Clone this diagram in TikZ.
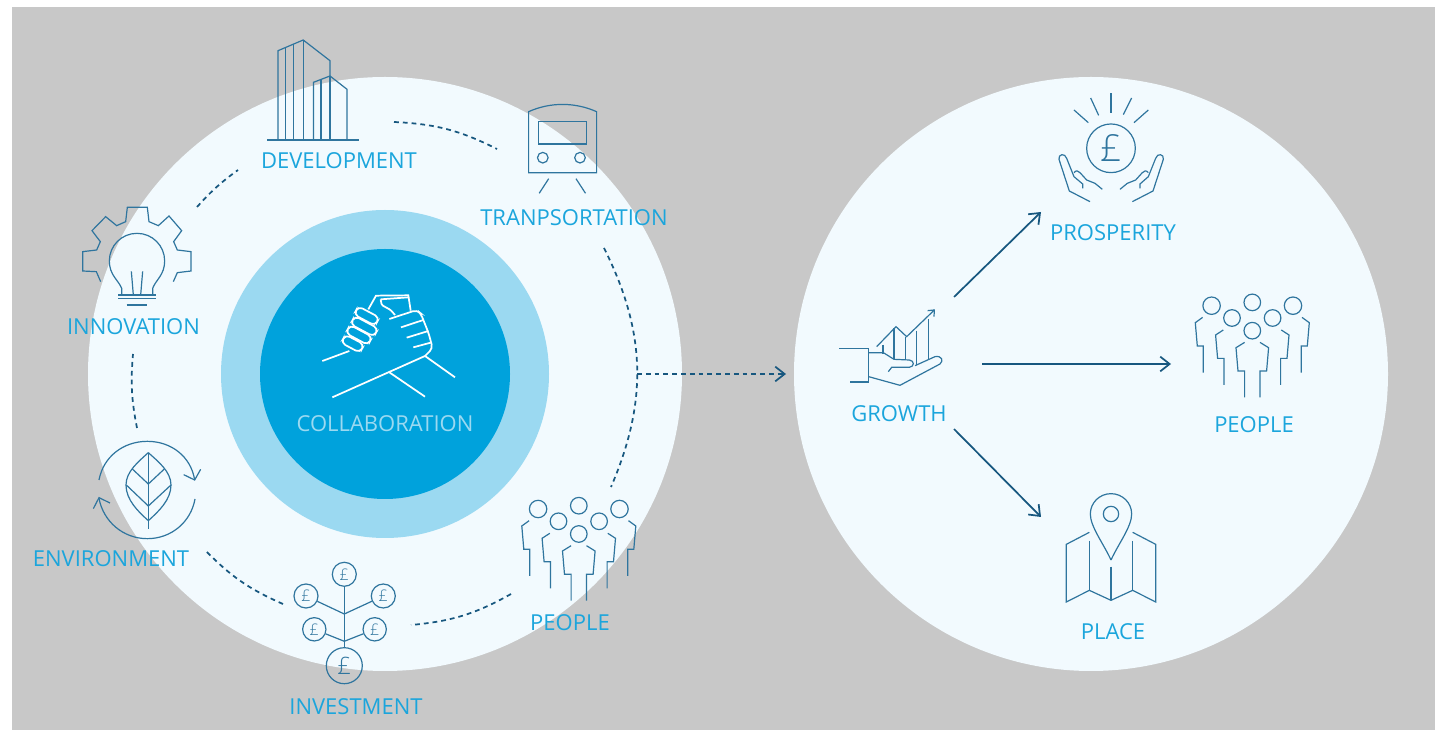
\documentclass[tikz,border=0pt]{standalone}
\usepackage{fontspec}
\setmainfont{Open Sans}
\newfontfamily\thinfont{Open Sans Light}
\usetikzlibrary{arrows.meta}
\definecolor{backgrey}{HTML}{C8C8C8}
\definecolor{paleblue}{HTML}{F2FAFE}
\definecolor{ringblue}{HTML}{9BD9F1}
\definecolor{coreblue}{HTML}{00A2DC}
\definecolor{textblue}{HTML}{1BA5DC}
\definecolor{iconblue}{HTML}{2F759E}
\definecolor{flowblue}{HTML}{17577F}
\tikzset{
  iconline/.style={draw=iconblue,line width=0.9pt},
  handline/.style={draw=white,line width=1.3pt,rounded corners=3pt},
  fingerline/.style={handline,rounded corners=3.5pt},
  caption/.style={text=textblue,font=\fontsize{16.5}{18}\selectfont,inner sep=0pt},
  coin/.style={iconline,circle,inner sep=0pt,text=iconblue},
  dashflow/.style={draw=flowblue,line width=1.3pt,dash pattern=on 3.6pt off 3pt},
  solidflow/.style={draw=flowblue,line width=1.3pt,-{Straight Barb[length=7pt,width=11pt]}},
  people/.pic={
    \draw[iconline] (-40.7,-41) circle (8.7) (-20.3,-28.7) circle (8.3) (0,-44.3) circle (8.3)
      (20.3,-28.7) circle (8.3) (40.7,-41) circle (8.7) (0,-16) circle (8.3);
    \draw[iconline] (-49.7,-29.3) -- (-57,-24) -- (-55,-0.7) -- (-49,-0.7) -- (-49,26);
    \draw[iconline] (49.7,-29.3) -- (57,-24) -- (55,-0.7) -- (49,-0.7) -- (49,26);
    \draw[iconline] (-29,-16.7) -- (-36.7,-11.7) -- (-34.7,11.7) -- (-28.3,11.7) -- (-28.3,38.3);
    \draw[iconline] (29,-16.7) -- (36.7,-11.7) -- (34.7,11.7) -- (28.3,11.7) -- (28.3,38.3);
    \draw[iconline] (-7.7,-4.3) -- (-16.3,1) -- (-14.3,24.3) -- (-7.7,24.3) -- (-7.7,50.7);
    \draw[iconline] (7.7,-4.3) -- (16.3,1) -- (14.3,24.3) -- (7.7,24.3) -- (7.7,50.7);
  }
}
\begin{document}
\begin{tikzpicture}[x=0.75pt,y=-0.75pt]
\useasboundingbox (0,0) rectangle (1440,730);
\fill[backgrey] (12,7) rectangle (1435,730);
\fill[paleblue] (385,374) circle (297);
\fill[paleblue] (1091,374) circle (297);
\fill[ringblue] (385,374) circle (164);
\fill[coreblue] (385,374) circle (125);

% handshake
\begin{scope}[shift={(300,270)},scale=1/3]
\draw[fingerline] (174.9,108.8) -- (238.3,142.6) -- (225.1,167.2) -- (161.7,133.4) -- cycle;
\draw[fingerline] (164.4,137.9) -- (234.8,175.5) -- (221.6,200.1) -- (151.2,162.5) -- cycle;
\draw[fingerline] (150.2,164.8) -- (217,200.6) -- (203.8,225.2) -- (137,189.4) -- cycle;
\draw[fingerline] (136.4,193.7) -- (192.8,223.7) -- (179.6,248.3) -- (123.2,218.3) -- cycle;
\draw[handline] (67,273) -- (148,243);
\draw[handline,rounded corners=0pt] (205,118) -- (228,77) -- (325,76) -- (332,122);
\draw[handline] (268,147) -- (350,120) -- (362,130) -- (372,155) -- (386,190) -- (398,235) -- (375,258);
\draw[handline] (242,88) -- (325,82);
\draw[handline,rounded corners=1pt] (242,88) -- (245,105) -- (272,120) -- (285,135);
\draw[handline] (303,172) -- (370,150);
\draw[handline] (320,203) -- (385,183);
\draw[handline] (340,232) -- (392,218);
\draw[handline,rounded corners=0pt] (97,382) -- (375,258) -- (465,322);
\draw[handline] (268,307) -- (375,380);
\end{scope}

% left ring icons
\draw[iconline] (267,140) -- (358.5,140);
\draw[iconline] (278,140) -- (278,50.7) -- (303.2,40) -- (330,60.7) -- (330,76);
\draw[iconline] (285.4,140) -- (285.4,47.6);
\draw[iconline] (293.3,140) -- (293.3,44.3);
\draw[iconline] (303.2,140) -- (303.2,40);
\draw[iconline] (313.5,140) -- (313.5,82.3) -- (330,76) -- (347,89.3) -- (347,140);
\draw[iconline] (321,140) -- (321,79.4);
\draw[iconline] (330,140) -- (330,76);

\draw[iconline] (528.6,172.7) -- (528.6,111.7) .. controls (550,102) and (575,102) .. (596.6,111.7) -- (596.6,172.7) -- cycle;
\draw[iconline] (538.4,121.3) rectangle (586.3,144);
\draw[iconline] (542.8,157.7) circle (5.3) (580,157.7) circle (5.3);
\draw[iconline] (548.7,178.7) -- (539.2,193.3);
\draw[iconline] (576,178.7) -- (585.5,193.3);

\begin{scope}[shift={(70,200)},scale=1/3]
\draw[iconline] (92,245) -- (79,215) -- (38,213) -- (38,155) -- (80,150) -- (91,125) -- (66,92) -- (107,50) -- (140,77) -- (167,65) -- (172,22) -- (232,22) -- (237,65) -- (265,77) -- (297,48) -- (335,92) -- (311,125) -- (322,150) -- (363,155) -- (363,213) -- (322,218) -- (310,245);
\draw[iconline] (155,285) -- (155,265) .. controls (145,240) and (118,225) .. (118,183) .. controls (118,137) and (155,100) .. (201,100) .. controls (247,100) and (284,137) .. (284,183) .. controls (284,225) and (257,240) .. (248,265) -- (248,285);
\draw[iconline] (184,214) -- (190,285);
\draw[iconline] (218,214) -- (212,285);
\draw[iconline] (145,285) -- (258,285);
\draw[iconline] (145,296) -- (258,296);
\draw[iconline] (170,315) -- (232,315);
\end{scope}

\begin{scope}[shift={(85,430)},scale=1/3]
\draw[iconline] (42,150) .. controls (55,80) and (115,34) .. (187,34) .. controls (259,34) and (318,80) .. (329,150);
\draw[iconline] (296,134) -- (329,150) -- (347,118);
\draw[iconline] (330,207) .. controls (318,275) and (260,326) .. (187,326) .. controls (115,326) and (55,275) .. (42,205);
\draw[iconline] (75,219) -- (42,203) -- (25,236);
\draw[iconline] (190,68) .. controls (160,95) and (123,125) .. (123,165) .. controls (123,210) and (160,245) .. (190,272) .. controls (220,245) and (258,210) .. (258,165) .. controls (258,125) and (220,95) .. (190,68);
\draw[iconline] (190,68) -- (190,297);
\draw[iconline] (142,117) -- (190,162) -- (238,117);
\draw[iconline] (124,165) -- (190,228) -- (258,165);
\end{scope}

\pic at (578.8,550) {people};

% investment tree
\node[coin,minimum size=18pt,font=\thinfont\fontsize{12}{12}\selectfont] (coinTop) at (344.3,574.3) {£};
\node[coin,minimum size=18pt,font=\thinfont\fontsize{12}{12}\selectfont] (coinUL) at (306,596) {£};
\node[coin,minimum size=18pt,font=\thinfont\fontsize{12}{12}\selectfont] (coinUR) at (383.3,596) {£};
\node[coin,minimum size=17.5pt,font=\thinfont\fontsize{12}{12}\selectfont] (coinLL) at (314.3,629.3) {£};
\node[coin,minimum size=17.5pt,font=\thinfont\fontsize{12}{12}\selectfont] (coinLR) at (374.7,629.3) {£};
\node[coin,minimum size=27pt,font=\thinfont\fontsize{18}{18}\selectfont] (coinBig) at (344.3,665.7) {£};
\coordinate (forkUp) at (344.3,614);
\coordinate (forkLow) at (344.3,641.3);
\draw[iconline] (coinTop) -- (coinBig);
\draw[iconline] (coinUL) -- (forkUp) -- (coinUR);
\draw[iconline] (coinLL) -- (forkLow) -- (coinLR);

% right circle icons
\begin{scope}[shift={(820,80)},scale=1/3]
\draw[iconline] (58,806) -- (146,806) -- (146,906) -- (90,906);
\draw[iconline] (146,818) -- (190,818) -- (222,838) -- (268,840) .. controls (284,842) and (284,860) .. (268,862) -- (215,862) -- (205,875);
\draw[iconline] (146,890) -- (240,916) -- (360,852) .. controls (372,842) and (365,826) .. (345,830) -- (285,857);
\draw[iconline] (189,795) -- (189,822);
\draw[iconline] (222,745) -- (222,838);
\draw[iconline] (256,770) -- (256,838);
\draw[iconline] (290,752) -- (290,855);
\draw[iconline] (325,718) -- (325,840);
\draw[iconline] (170,800) -- (228,740) -- (260,770) -- (343,690);
\draw[iconline] (323,692) -- (343,690) -- (342,710);
\draw[iconline] (873,40) -- (873,98);
\draw[iconline] (812,54) -- (836,106);
\draw[iconline] (935,54) -- (910,104);
\draw[iconline] (762,90) -- (805,128);
\draw[iconline] (985,90) -- (942,128);
\draw[iconline] (810,365) -- (748,333) -- (717,238) .. controls (714,222) and (735,218) .. (740,235) -- (762,290) -- (788,312) -- (788,325);
\draw[iconline] (762,278) .. controls (768,270) and (775,272) .. (780,278) -- (800,300) -- (825,310) -- (847,328);
\draw[iconline] (937,365) -- (999,333) -- (1030,238) .. controls (1033,222) and (1012,218) .. (1007,235) -- (985,290) -- (960,312) -- (960,325);
\draw[iconline] (985,278) .. controls (979,270) and (972,272) .. (967,278) -- (947,300) -- (922,310) -- (900,328);
\end{scope}
\node[coin,minimum size=36.5pt,font=\thinfont\fontsize{28}{28}\selectfont] (coinGold) at (1111,148.3) {£};

\pic at (1252.3,346.7) {people};

\begin{scope}[shift={(1040,480)},scale=1/3]
\draw[iconline] (213,240) .. controls (190,190) and (151,140) .. (151,102) .. controls (151,68) and (179,41) .. (213,41) .. controls (247,41) and (275,68) .. (275,102) .. controls (275,140) and (236,190) .. (213,240);
\draw[iconline] (213,102) circle (23);
\draw[iconline] (148,157) -- (79,193) -- (79,366) -- (148,331) -- (213,361) -- (278,331) -- (347,366) -- (347,193) -- (278,157);
\draw[iconline] (148,183) -- (148,331);
\draw[iconline] (213,260) -- (213,361);
\draw[iconline] (278,183) -- (278,331);
\end{scope}

% labels
\node[caption] (development) at (339,160.7) {DEVELOPMENT};
\node[caption] (transport) at (574,217.7) {TRANPSORTATION};
\node[caption] (innovation) at (133.5,326.7) {INNOVATION};
\node[caption] (environment) at (111,558.7) {ENVIRONMENT};
\node[caption] (investment) at (356,706.7) {INVESTMENT};
\node[caption] (peopleA) at (570,622.7) {PEOPLE};
\node[caption,text=ringblue] (collab) at (385,423.7) {COLLABORATION};
\node[caption] (growth) at (899,413.7) {GROWTH};
\node[caption] (prosperity) at (1113,232.7) {PROSPERITY};
\node[caption] (peopleB) at (1254,424.7) {PEOPLE};
\node[caption] (place) at (1113,631.7) {PLACE};

% dashed ring
\coordinate (ringA) at (394,122);
\coordinate (ringB) at (497,149);
\coordinate (ringC) at (604,248);
\coordinate (ringD) at (611,487);
\coordinate (ringE) at (511,594);
\coordinate (ringF) at (411,625);
\coordinate (ringG) at (283,604);
\coordinate (ringH) at (205,550);
\coordinate (ringI) at (137,428);
\coordinate (ringJ) at (133,354);
\coordinate (ringK) at (197,207);
\coordinate (ringL) at (238,170);
\draw[dashflow] (ringA) to[bend left=12] (ringB);
\draw[dashflow] (ringC) to[bend left=25] (ringD);
\draw[dashflow] (ringE) to[bend left=12] (ringF);
\draw[dashflow] (ringG) to[bend left=11] (ringH);
\draw[dashflow] (ringI) to[bend left=8] (ringJ);
\draw[dashflow] (ringK) to[bend left=6] (ringL);

% flows
\coordinate (outStart) at (637,374);
\coordinate (outEnd) at (786,374);
\coordinate (growUp) at (954,297);
\coordinate (growMid) at (982,364);
\coordinate (growLow) at (954,429);
\coordinate (toProsper) at (1041,212);
\coordinate (toPeople) at (1171,364);
\coordinate (toPlace) at (1041,517);
\draw[dashflow,-{Straight Barb[length=7pt,width=11pt]}] (outStart) -- (outEnd);
\draw[solidflow] (growUp) -- (toProsper);
\draw[solidflow] (growMid) -- (toPeople);
\draw[solidflow] (growLow) -- (toPlace);
\end{tikzpicture}
\end{document}
